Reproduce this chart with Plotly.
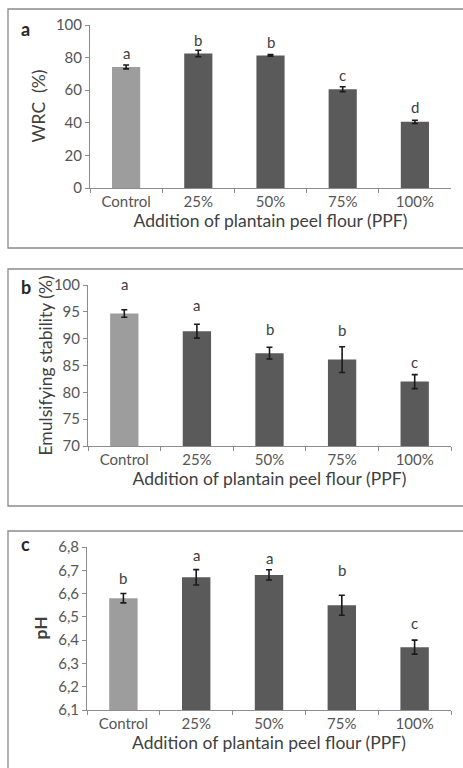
import plotly.graph_objects as go

categories = ["Control", "25%", "50%", "75%", "100%"]

wrc_values = [74.3, 82.5, 81.3, 60.6, 40.6]
wrc_errors = [1.2, 2.0, 0.5, 1.5, 1.0]
wrc_letters = ["a", "b", "b", "c", "d"]
wrc_letter_y = [82.6, 91.0, 89.8, 69.4, 49.6]

es_values = [94.7, 91.4, 87.3, 86.1, 82.0]
es_errors = [0.7, 1.3, 1.1, 2.4, 1.3]
es_letters = ["a", "a", "b", "b", "c"]
es_letter_y = [100.2, 96.3, 91.8, 91.7, 85.7]

ph_values = [6.58, 6.67, 6.68, 6.55, 6.37]
ph_errors = [0.02, 0.033, 0.022, 0.043, 0.03]
ph_letters = ["b", "a", "a", "b", "c"]
ph_letter_y = [6.667, 6.764, 6.753, 6.70, 6.474]

W, H = 463, 768
FONT = "Lato"
TXT = "#555555"
LIGHT = "#9d9d9d"
DARK = "#5a5a5a"


def px_x(p):
    return p / W


def px_y(p):
    return 1 - p / H


panels = [
    dict(name="a", vals=wrc_values, errs=wrc_errors, letters=wrc_letters, ly=wrc_letter_y,
         rng=[0, 100], ytitle="WRC  (%)", ybold=False,
         xdom=(90, 451), ydom=(25, 188), border=(8, 9, 248), lab=(25, 29),
         ytx=38, tickvals=[0, 20, 40, 60, 80, 100], ticktext=None),
    dict(name="b", vals=es_values, errs=es_errors, letters=es_letters, ly=es_letter_y,
         rng=[70, 100], ytitle="Emulsifying stability (%)", ybold=False,
         xdom=(88, 451), ydom=(285, 446), border=(8, 269, 506), lab=(26, 287),
         ytx=45, tickvals=[70, 75, 80, 85, 90, 95, 100], ticktext=None),
    dict(name="c", vals=ph_values, errs=ph_errors, letters=ph_letters, ly=ph_letter_y,
         rng=[6.1, 6.8], ytitle="pH", ybold=True,
         xdom=(87, 451), ydom=(547, 710), border=(8, 531, 790), lab=(25, 544),
         ytx=40, tickvals=[6.1, 6.2, 6.3, 6.4, 6.5, 6.6, 6.7, 6.8],
         ticktext=["6,1", "6,2", "6,3", "6,4", "6,5", "6,6", "6,7", "6,8"]),
]

fig = go.Figure()
shapes = []
annotations = []

for i, p in enumerate(panels):
    idx = "" if i == 0 else str(i + 1)
    xa = "x" + idx
    ya = "y" + idx
    lo, hi = p["rng"]
    colors = [LIGHT] + [DARK] * (len(categories) - 1)
    fig.add_trace(go.Bar(
        x=categories, y=[v - lo for v in p["vals"]], base=lo,
        marker=dict(color=colors, line=dict(width=0)),
        error_y=dict(type="data", array=p["errs"], color="#1a1a1a", thickness=1.6, width=3),
        xaxis=xa, yaxis=ya, showlegend=False, width=0.39,
    ))
    xd = [px_x(p["xdom"][0]), px_x(p["xdom"][1])]
    yd = [px_y(p["ydom"][1]), px_y(p["ydom"][0])]
    xkey = "xaxis" + idx
    ykey = "yaxis" + idx
    fig.layout[xkey] = dict(
        domain=xd, anchor=ya, type="category", tickson="boundaries",
        ticks="outside", ticklen=4, tickcolor="#8c8c8c", showline=True,
        linecolor="#8c8c8c", linewidth=1, showgrid=False, zeroline=False,
        tickfont=dict(family=FONT, size=15, color=TXT), automargin=False,
        title=dict(text="Addition of plantain peel flour (PPF)",
                   font=dict(family=FONT, size=17.5, color="#404040"), standoff=1),
        range=[-0.5, 4.5], fixedrange=True,
    )
    yax = dict(
        domain=yd, anchor=xa, range=p["rng"], tickvals=p["tickvals"],
        ticks="outside", ticklen=4, tickcolor="#8c8c8c", showline=True,
        linecolor="#8c8c8c", linewidth=1, showgrid=False, zeroline=False,
        tickfont=dict(family=FONT, size=15, color=TXT), fixedrange=True,
        automargin=False,
    )
    if p["ticktext"]:
        yax["ticktext"] = p["ticktext"]
    fig.layout[ykey] = yax

    # significance letters (positioned in the axis domain from their data values)
    for c, ly, t in zip(categories, p["ly"], p["letters"]):
        annotations.append(dict(x=c, xref=xa, y=(ly - lo) / (hi - lo), yref=ya + " domain",
                                xanchor="center", yanchor="middle", text=t, showarrow=False,
                                font=dict(family=FONT, size=15, color="#404040")))

    # panel label
    annotations.append(dict(x=px_x(p["lab"][0]), y=px_y(p["lab"][1]), xref="paper", yref="paper",
                            xanchor="center", yanchor="middle",
                            text="<b>%s</b>" % p["name"], showarrow=False,
                            font=dict(family=FONT, size=18, color="#262626")))
    # y-axis title
    ytext = "<b>%s</b>" % p["ytitle"] if p["ybold"] else p["ytitle"]
    annotations.append(dict(x=px_x(p["ytx"]), y=(yd[0] + yd[1]) / 2, xref="paper", yref="paper",
                            xanchor="center", yanchor="middle",
                            text=ytext, textangle=-90, showarrow=False,
                            font=dict(family=FONT, size=17.5, color="#404040")))
    # border
    bx, btop, bbot = p["border"]
    shapes.append(dict(type="rect", xref="paper", yref="paper",
                       x0=px_x(bx), x1=px_x(480), y0=px_y(bbot), y1=px_y(btop),
                       line=dict(color="#8a8a8a", width=1.3), fillcolor="rgba(0,0,0,0)"))

fig.update_layout(
    width=W, height=H, margin=dict(l=0, r=0, t=0, b=0, autoexpand=False),
    paper_bgcolor="white", plot_bgcolor="white",
    shapes=shapes, annotations=annotations, bargap=0.61,
    font=dict(family=FONT),
)

fig.write_html("out.html", config={"displayModeBar": False},
               post_script="document.body.style.margin='0';")
